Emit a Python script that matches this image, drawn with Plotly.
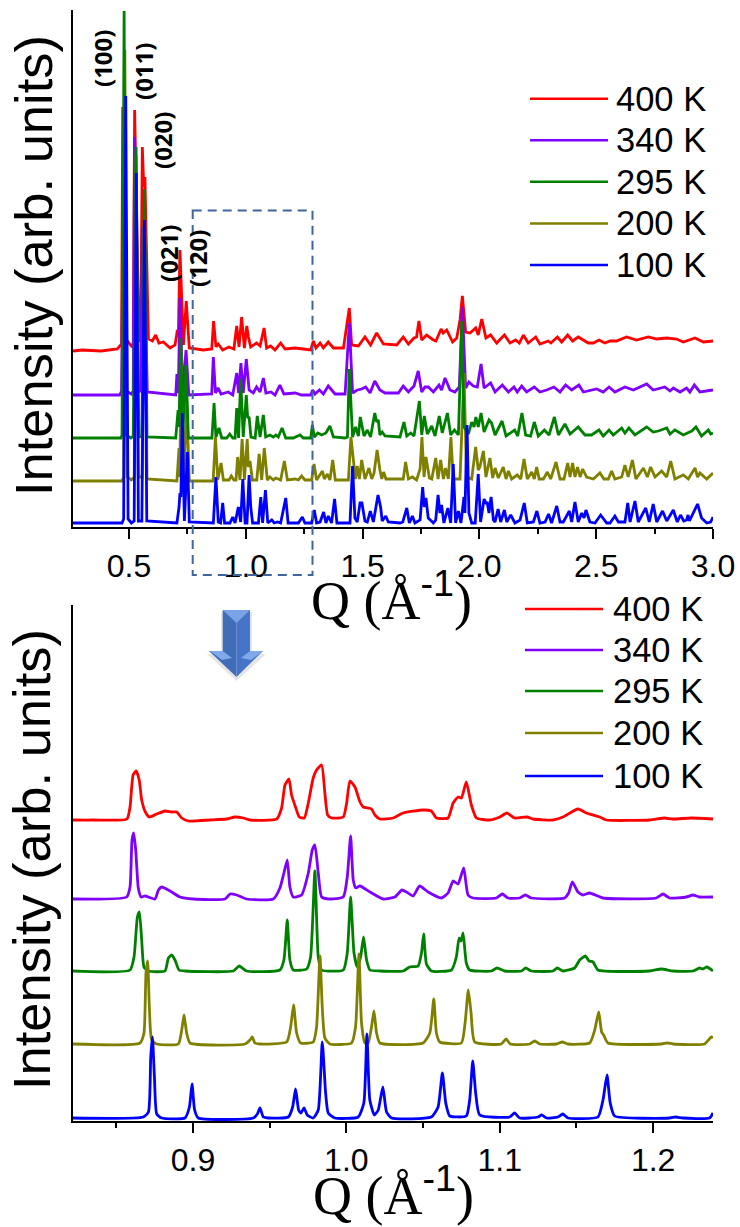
import plotly.graph_objects as go

# ---- data: (Q, intensity in arbitrary units) ----
top_400 = [(.26,176),(.30,177),(.38,176),(.45,178),(.468,183),(.473,420),(.481,190),(.51,181),(.518,183),(.524,417),(.543,185),(.550,190),(.557,380),(.563,340),(.568,350),(.583,188),(.600,186),(.614,192),(.628,184),(.647,185),(.676,179),(.697,182),(.707,197),(.711,190),(.718,277),(.733,182),(.745,226),(.758,179),(.818,177),(.854,178),(.862,206),(.872,180),(.882,183),(.901,177),(.928,180),(.949,178),(.961,201),(.971,180),(.982,210),(.994,179),(1.004,201),(1.011,190),(1.021,180),(1.046,184),(1.061,181),(1.078,199),(1.089,179),(1.106,181),(1.125,177),(1.149,184),(1.168,178),(1.211,179),(1.246,178),(1.278,177),(1.289,186),(1.300,179),(1.318,184),(1.332,179),(1.353,185),(1.375,179),(1.418,179),(1.435,207),(1.443,219),(1.453,182),(1.482,181),(1.510,190),(1.534,182),(1.560,194),(1.589,183),(1.646,182),(1.674,190),(1.696,183),(1.720,189),(1.731,190),(1.741,206),(1.753,187),(1.774,192),(1.803,187),(1.814,186),(1.836,198),(1.845,194),(1.860,197),(1.885,185),(1.903,189),(1.917,207),(1.927,231),(1.941,195),(1.960,194),(1.984,199),(1.995,192),(2.010,208),(2.028,189),(2.048,192),(2.074,184),(2.107,192),(2.131,184),(2.155,187),(2.171,184),(2.188,192),(2.209,184),(2.241,190),(2.259,183),(2.295,186),(2.306,184),(2.334,190),(2.352,185),(2.378,192),(2.399,186),(2.423,190),(2.466,184),(2.488,184),(2.512,187),(2.537,184),(2.559,186),(2.587,186),(2.630,190),(2.673,187),(2.723,190),(2.759,188),(2.802,189),(2.844,188),(2.873,185),(2.923,189),(2.959,185),(3.0,186)]

top_340 = [(.26,132),(.46,132),(.468,136),(.478,400),(.488,136),(.51,133),(.518,136),(.524,390),(.538,136),(.55,136),(.557,300),(.561,270),(.566,280),(.578,135),(.70,132),(.705,153),(.711,134),(.718,229),(.730,134),(.744,177),(.756,132),(.854,133),(.861,170),(.870,134),(.881,139),(.894,133),(.925,135),(.944,132),(.961,154),(.969,134),(.979,164),(.989,134),(1.002,168),(1.014,137),(1.032,134),(1.046,140),(1.061,135),(1.075,149),(1.086,134),(1.108,135),(1.125,132),(1.146,142),(1.163,133),(1.211,134),(1.239,132),(1.278,132),(1.286,137),(1.296,133),(1.315,137),(1.332,133),(1.353,141),(1.382,133),(1.425,133),(1.436,170),(1.443,204),(1.457,134),(1.477,137),(1.496,138),(1.513,140),(1.532,134),(1.552,146),(1.574,137),(1.596,134),(1.653,134),(1.674,141),(1.696,135),(1.720,141),(1.738,156),(1.753,135),(1.767,140),(1.781,140),(1.803,135),(1.827,142),(1.838,137),(1.853,149),(1.874,137),(1.895,135),(1.914,140),(1.927,220),(1.941,139),(1.955,145),(1.974,141),(1.991,140),(2.007,163),(2.020,139),(2.048,144),(2.067,135),(2.098,142),(2.124,135),(2.148,140),(2.162,135),(2.181,141),(2.202,135),(2.235,140),(2.259,135),(2.288,137),(2.319,140),(2.345,135),(2.369,142),(2.395,137),(2.426,142),(2.445,135),(2.502,138),(2.530,135),(2.555,140),(2.580,135),(2.623,140),(2.659,137),(2.716,143),(2.744,137),(2.794,140),(2.816,136),(2.830,139),(2.859,135),(2.887,139),(2.901,135),(2.920,142),(2.944,135),(2.980,136),(3.0,137)]

top_295 = [(.26,89),(.465,89),(.470,92),(.479,516),(.487,92),(.508,89),(.518,91),(.530,380),(.542,90),(.555,91),(.566,338),(.577,90),(.700,89),(.710,117),(.714,100),(.721,189),(.730,90),(.744,162),(.754,89),(.855,89),(.864,124),(.872,90),(.885,99),(.897,89),(.918,89),(.931,93),(.944,89),(.954,89),(.961,119),(.969,89),(.978,148),(.989,90),(1.002,132),(1.008,109),(1.014,110),(1.022,90),(1.040,89),(1.049,111),(1.061,90),(1.075,112),(1.085,90),(1.103,92),(1.118,90),(1.129,92),(1.139,90),(1.155,99),(1.171,89),(1.203,89),(1.232,92),(1.246,89),(1.278,89),(1.285,102),(1.293,90),(1.308,94),(1.325,92),(1.343,94),(1.360,101),(1.375,90),(1.425,89),(1.435,90),(1.443,158),(1.457,90),(1.470,100),(1.482,91),(1.490,110),(1.500,100),(1.506,91),(1.520,97),(1.534,90),(1.552,114),(1.560,105),(1.567,107),(1.574,92),(1.584,95),(1.596,91),(1.660,90),(1.677,105),(1.689,91),(1.706,94),(1.720,91),(1.743,126),(1.753,92),(1.764,111),(1.777,93),(1.796,101),(1.810,91),(1.828,111),(1.841,94),(1.863,114),(1.877,92),(1.893,97),(1.910,92),(1.925,206),(1.934,100),(1.953,93),(1.967,105),(1.977,100),(1.985,110),(1.995,100),(2.007,114),(2.020,95),(2.041,107),(2.052,104),(2.067,92),(2.097,106),(2.114,91),(2.151,97),(2.164,91),(2.182,114),(2.198,92),(2.219,91),(2.235,105),(2.252,91),(2.278,97),(2.298,92),(2.321,110),(2.338,92),(2.366,103),(2.388,93),(2.423,100),(2.452,92),(2.480,92),(2.512,97),(2.530,91),(2.555,97),(2.573,92),(2.609,99),(2.623,94),(2.640,99),(2.666,92),(2.716,100),(2.744,95),(2.766,96),(2.802,99),(2.816,93),(2.837,97),(2.873,92),(2.909,96),(2.927,100),(2.951,91),(2.980,97),(2.990,93),(3.0,94)]

top_200 = [(.26,46),(.47,46),(.477,50),(.482,477),(.492,50),(.51,47),(.522,50),(.530,372),(.540,50),(.556,50),(.566,330),(.577,48),(.705,46),(.714,79),(.718,50),(.722,180),(.735,48),(.747,124),(.758,46),(.860,46),(.870,90),(.880,47),(.894,64),(.904,47),(.928,47),(.938,51),(.949,47),(.958,47),(.965,70),(.975,47),(.984,88),(.994,47),(1.006,88),(1.011,60),(1.018,66),(1.028,47),(1.047,47),(1.057,73),(1.068,47),(1.079,79),(1.092,47),(1.103,50),(1.118,47),(1.128,49),(1.139,48),(1.149,47),(1.165,66),(1.178,47),(1.211,48),(1.225,47),(1.239,51),(1.253,47),(1.282,47),(1.292,63),(1.303,47),(1.328,56),(1.336,48),(1.349,53),(1.360,47),(1.372,67),(1.383,47),(1.439,47),(1.450,90),(1.460,70),(1.469,48),(1.477,61),(1.486,48),(1.496,67),(1.510,48),(1.527,59),(1.539,48),(1.549,54),(1.562,77),(1.574,57),(1.582,48),(1.590,55),(1.600,48),(1.674,48),(1.684,65),(1.696,48),(1.713,50),(1.731,47),(1.746,58),(1.754,90),(1.763,50),(1.771,70),(1.786,49),(1.796,48),(1.813,69),(1.823,48),(1.834,67),(1.846,48),(1.855,59),(1.867,48),(1.878,90),(1.888,48),(1.917,48),(1.934,154),(1.945,50),(1.967,48),(1.984,80),(1.995,57),(2.002,60),(2.017,76),(2.028,50),(2.045,69),(2.057,49),(2.067,59),(2.081,49),(2.102,60),(2.114,48),(2.124,56),(2.138,48),(2.162,52),(2.177,48),(2.191,68),(2.205,48),(2.224,55),(2.235,48),(2.245,60),(2.256,48),(2.274,48),(2.291,55),(2.305,48),(2.328,65),(2.345,48),(2.362,48),(2.378,64),(2.388,50),(2.399,64),(2.409,50),(2.420,60),(2.431,50),(2.442,58),(2.459,50),(2.488,48),(2.516,54),(2.533,48),(2.552,48),(2.566,56),(2.580,48),(2.609,50),(2.623,62),(2.637,50),(2.655,67),(2.670,48),(2.702,59),(2.719,50),(2.733,60),(2.752,50),(2.780,56),(2.802,50),(2.819,66),(2.837,48),(2.873,52),(2.894,48),(2.923,59),(2.934,50),(2.944,54),(2.973,48),(2.998,54),(3.0,54)]

top_100 = [(.26,4),(.47,4),(.477,8),(.486,431),(.496,8),(.51,4),(.522,6),(.531,354),(.54,6),(.555,6),(.566,307),(.576,6),(.705,4),(.714,20),(.718,34),(.722,30),(.728,114),(.737,6),(.750,75),(.758,5),(.861,4),(.872,50),(.882,5),(.892,4),(.901,24),(.909,4),(.932,4),(.944,10),(.954,4),(.968,20),(.978,5),(.987,48),(.997,4),(1.005,4),(1.014,52),(1.021,20),(1.029,4),(1.054,4),(1.064,30),(1.072,4),(1.084,37),(1.094,4),(1.111,7),(1.122,4),(1.135,5),(1.149,4),(1.171,29),(1.181,4),(1.225,4),(1.242,10),(1.253,4),(1.282,4),(1.293,17),(1.303,4),(1.318,5),(1.333,15),(1.343,4),(1.353,11),(1.367,4),(1.380,28),(1.390,4),(1.446,4),(1.457,61),(1.467,9),(1.477,5),(1.489,24),(1.497,24),(1.510,6),(1.520,5),(1.533,16),(1.546,5),(1.566,32),(1.577,20),(1.584,6),(1.599,11),(1.610,5),(1.660,4),(1.672,5),(1.689,19),(1.700,4),(1.713,11),(1.724,4),(1.746,7),(1.757,40),(1.764,20),(1.771,29),(1.781,9),(1.803,4),(1.813,7),(1.823,32),(1.831,14),(1.838,22),(1.848,4),(1.865,19),(1.877,4),(1.888,63),(1.898,4),(1.910,16),(1.921,4),(1.934,30),(1.938,14),(1.947,102),(1.955,14),(1.967,4),(1.982,4),(1.995,53),(2.005,5),(2.020,28),(2.028,24),(2.034,24),(2.041,14),(2.050,30),(2.060,7),(2.067,5),(2.080,18),(2.091,5),(2.107,17),(2.117,5),(2.134,12),(2.152,4),(2.174,7),(2.192,24),(2.205,4),(2.231,5),(2.246,16),(2.259,4),(2.281,5),(2.296,13),(2.309,4),(2.331,21),(2.345,5),(2.359,5),(2.385,16),(2.395,5),(2.409,25),(2.423,5),(2.438,14),(2.448,9),(2.456,17),(2.473,5),(2.495,4),(2.519,12),(2.545,4),(2.559,4),(2.580,11),(2.595,5),(2.623,5),(2.635,24),(2.645,5),(2.666,26),(2.680,5),(2.712,19),(2.727,5),(2.744,23),(2.759,5),(2.784,16),(2.802,6),(2.830,17),(2.847,5),(2.861,12),(2.875,6),(2.887,7),(2.893,12),(2.899,6),(2.934,23),(2.951,9),(2.973,4),(2.990,5),(3.0,10)]

low_400 = [(.8215,301),(.835,301),(.857,302),(.859,314),(.861,346),(.863,350),(.865,341),(.8666,321),(.869,309),(.8716,304),(.8764,307),(.8818,310),(.8861,309),(.8894,309),(.8927,303),(.897,300),(.9111,301),(.922,302),(.9274,304),(.9328,303),(.9372,301),(.9546,302),(.9578,313),(.96,336),(.9626,342),(.9643,326),(.9671,313),(.9693,304),(.9726,303),(.9752,318),(.9784,343),(.9806,351),(.9839,356),(.986,328),(.9878,306),(.9904,303),(.998,304),(1.0002,318),(1.0023,340),(1.0056,334),(1.0089,319),(1.011,314),(1.0164,312),(1.0186,306),(1.0219,302),(1.0305,303),(1.037,308),(1.05,311),(1.0554,310),(1.0587,303),(1.0663,303),(1.0696,318),(1.0728,324),(1.075,323),(1.0782,339),(1.0815,316),(1.0848,303),(1.0934,301),(1.10,304),(1.1047,308),(1.1097,303),(1.1178,304),(1.1217,302),(1.1347,301),(1.1412,304),(1.151,312),(1.1564,308),(1.1651,304),(1.1694,301),(1.1977,301),(1.2075,303),(1.2129,302),(1.2248,303),(1.239,302)]

low_340 = [(.8215,222),(.8568,224),(.859,234),(.8603,281),(.8614,288),(.8627,271),(.8644,233),(.8662,224),(.8688,225),(.8753,222),(.8775,231),(.8796,234),(.8851,230),(.8916,224),(.9003,222),(.9209,222),(.9242,227),(.9285,226),(.935,222),(.9524,222),(.9567,233),(.9593,248),(.9615,261),(.9632,234),(.9654,224),(.9708,226),(.9752,248),(.9778,271),(.9795,276),(.9817,248),(.9839,224),(.9893,222),(.998,224),(1.0006,244),(1.0028,285),(1.0045,241),(1.0062,233),(1.0089,235),(1.0154,229),(1.0241,222),(1.0316,224),(1.0363,231),(1.0392,229),(1.0435,225),(1.0478,235),(1.0533,229),(1.062,223),(1.0663,228),(1.0696,240),(1.0728,237),(1.0765,253),(1.0793,226),(1.0826,223),(1.0978,223),(1.1017,227),(1.1054,223),(1.113,223),(1.1167,226),(1.1206,223),(1.1423,223),(1.1449,228),(1.1473,239),(1.151,229),(1.1542,226),(1.1586,228),(1.1673,223),(1.202,223),(1.2064,227),(1.2107,223),(1.2216,224),(1.2259,226),(1.2302,224),(1.239,224)]

low_295 = [(.8215,150),(.859,151),(.8616,164),(.8638,204),(.8651,209),(.8666,181),(.8681,154),(.871,150),(.8818,150),(.884,163),(.8861,166),(.8883,161),(.8909,151),(.8948,150),(.9263,150),(.9302,155),(.935,150),(.9567,151),(.9593,161),(.9615,201),(.9632,161),(.9654,151),(.9741,152),(.9767,164),(.9795,250),(.9817,164),(.9839,151),(.998,151),(1.0006,168),(1.0028,224),(1.005,168),(1.0071,154),(1.0093,164),(1.0112,184),(1.0132,161),(1.0154,151),(1.0219,150),(1.037,150),(1.0413,154),(1.0468,155),(1.049,168),(1.0504,187),(1.0522,157),(1.0554,150),(1.0685,151),(1.0717,164),(1.0735,183),(1.0748,180),(1.0761,188),(1.0782,158),(1.0804,151),(1.0945,150),(1.0982,153),(1.1032,150),(1.1141,150),(1.1169,153),(1.1206,150),(1.1347,150),(1.1375,153),(1.1412,150),(1.1488,153),(1.1521,161),(1.1558,165),(1.1582,160),(1.1608,159),(1.164,151),(1.1977,150),(1.2053,152),(1.2129,150),(1.2259,150),(1.2302,153),(1.2324,152),(1.235,154),(1.239,150)]

low_200 = [(.8215,77),(.8655,78),(.8681,88),(.8694,148),(.8705,160),(.8716,114),(.8731,81),(.8764,77),(.8905,77),(.8927,91),(.8942,106),(.8959,88),(.8981,78),(.9339,77),(.9372,81),(.9387,84),(.9404,78),(.9437,77),(.9611,79),(.9637,94),(.9656,116),(.9676,88),(.9702,78),(.9784,79),(.9806,94),(.9828,165),(.9843,114),(.986,83),(.9893,77),(1.0034,78),(1.006,94),(1.0082,167),(1.0099,98),(1.0121,78),(1.0142,78),(1.0164,94),(1.018,110),(1.0197,88),(1.0219,78),(1.05,78),(1.0544,88),(1.057,122),(1.0587,88),(1.0609,79),(1.075,78),(1.0774,98),(1.0795,131),(1.0813,108),(1.0837,79),(1.101,77),(1.1041,82),(1.1069,77),(1.1195,77),(1.1228,80),(1.126,77),(1.1369,77),(1.1408,79),(1.1445,77),(1.1586,78),(1.1619,91),(1.1645,109),(1.1664,89),(1.1677,86),(1.1705,78),(1.2053,77),(1.2092,78),(1.2129,77),(1.2335,77),(1.2379,84),(1.239,83)]

low_100 = [(.8215,3),(.8677,4),(.871,9),(.8725,64),(.8736,84),(.8749,44),(.8764,7),(.8796,3),(.8948,3),(.8977,14),(.8994,37),(.9011,11),(.9035,3),(.9394,3),(.942,7),(.9437,13),(.9459,4),(.9491,3),(.9622,4),(.965,14),(.9669,32),(.9689,11),(.9704,8),(.9724,13),(.9745,6),(.9784,3),(.9817,11),(.9843,79),(.9865,28),(.9882,8),(.9925,3),(1.0077,4),(1.0114,18),(1.0134,87),(1.0153,21),(1.0182,6),(1.0208,11),(1.0238,34),(1.0262,9),(1.0295,3),(1.0554,4),(1.0598,14),(1.0626,48),(1.0648,18),(1.0674,5),(1.0782,5),(1.0804,21),(1.0824,60),(1.0843,28),(1.0869,6),(1.1065,4),(1.1097,8),(1.113,3),(1.125,4),(1.1273,6),(1.1304,3),(1.138,4),(1.141,7),(1.1445,3),(1.164,4),(1.1673,21),(1.1699,46),(1.172,18),(1.1749,5),(1.2107,3),(1.2146,4),(1.2194,3),(1.2368,3),(1.239,8)]

labels = ["400 K", "340 K", "295 K", "200 K", "100 K"]
colors = {"400 K": "#FF0000", "340 K": "#8000FF", "295 K": "#008000", "200 K": "#808000", "100 K": "#0000FF"}
top_series = {"400 K": top_400, "340 K": top_340, "200 K": top_200, "295 K": top_295, "100 K": top_100}
low_series = {"400 K": low_400, "340 K": low_340, "295 K": low_295, "200 K": low_200, "100 K": low_100}
top_ticks = [0.5, 1.0, 1.5, 2.0, 2.5, 3.0]
top_minor = [0.75, 1.25, 1.75, 2.25, 2.75]
low_ticks = [0.9, 1.0, 1.1, 1.2]
low_minor = [0.85, 0.95, 1.05, 1.15]
miller = [("(100)", 102, 59), ("(011)", 143, 72), ("(020)", 162, 141), ("(021)", 169, 254), ("(120)", 197, 259)]

W, H = 740, 1227
def px(x): return x / W
def py(y): return 1 - y / H

fig = go.Figure()
for name, pts in top_series.items():
    q, v = zip(*pts)
    fig.add_trace(go.Scatter(x=q, y=v, mode="lines", name=name, showlegend=False, hoverinfo="skip",
                             line=dict(color=colors[name], width=2.8), xaxis="x", yaxis="y"))
for name, pts in low_series.items():
    q, v = zip(*pts)
    fig.add_trace(go.Scatter(x=q, y=v, mode="lines", name=name, showlegend=False, hoverinfo="skip",
                             line=dict(color=colors[name], width=2.8, shape="spline", smoothing=0.5),
                             xaxis="x2", yaxis="y2"))

def xax(rng, ticks, minor, anchor):
    return dict(domain=[px(72.5), px(713)], range=rng, anchor=anchor, tickvals=ticks,
                ticktext=[f"{t:.1f}" for t in ticks], ticks="outside", ticklen=10, tickwidth=1.6,
                tickcolor="black", showline=True, linecolor="black", linewidth=2, showgrid=False, zeroline=False,
                automargin=False,
                tickfont=dict(family="Liberation Sans", size=32, color="black"),
                minor=dict(tickvals=minor, ticks="outside", ticklen=5, tickwidth=1.6, tickcolor="black", showgrid=False))

def yax(rng, y0, y1, anchor):
    return dict(domain=[py(y0), py(y1)], range=rng, anchor=anchor, showticklabels=False, ticks="",
                automargin=False,
                showline=True, linecolor="black", linewidth=2, showgrid=False, zeroline=False)

shapes, ann = [], []

def legend(x0, x1, xt, ys):
    for lab, y in zip(labels, ys):
        shapes.append(dict(type="line", xref="paper", yref="paper", x0=px(x0), x1=px(x1), y0=py(y), y1=py(y),
                           line=dict(color=colors[lab], width=2.4)))
        ann.append(dict(text=lab, xref="paper", yref="paper", x=px(xt), y=py(y), xanchor="left", yanchor="middle",
                        showarrow=False, font=dict(family="Liberation Sans", size=34.5, color="black")))

legend(530, 608, 614, [98.7, 140.3, 181.7, 223.5, 265])
legend(525, 603, 611, [609, 650, 691, 733, 776])

for txt, x, y in miller:
    ann.append(dict(text=f"<b>{txt}</b>", xref="paper", yref="paper", x=px(x), y=py(y), textangle=-90,
                    xanchor="center", yanchor="middle", showarrow=False,
                    font=dict(family="Open Sans", size=24, color="black")))

for x, y in [(33, 266), (31, 860)]:
    ann.append(dict(text="Intensity (arb. units)", xref="paper", yref="paper", x=px(x), y=py(y), textangle=-90,
                    xanchor="center", yanchor="middle", showarrow=False,
                    font=dict(family="Liberation Sans", size=52.5, color="black")))
for x, y in [(391, 596), (393, 1191)]:
    ann.append(dict(text='Q (Å<sup><span style="font-family:Liberation Sans">-1</span></sup>)',
                    xref="paper", yref="paper", x=px(x), y=py(y),
                    xanchor="center", yanchor="middle", showarrow=False,
                    font=dict(family="Liberation Serif", size=54, color="black")))

# dashed zoom box
shapes.append(dict(type="rect", xref="paper", yref="paper", x0=px(192.7), x1=px(312.5), y0=py(210.5), y1=py(575),
                   line=dict(color="#3F659E", width=2, dash="9px,6px"), fillcolor="rgba(0,0,0,0)"))

def poly(points, fill, opacity=1):
    path = "M " + " L ".join(f"{px(a):.5f},{py(b):.5f}" for a, b in points) + " Z"
    shapes.append(dict(type="path", xref="paper", yref="paper", path=path, fillcolor=fill, opacity=opacity,
                       line=dict(width=0)))

# block arrow
poly([(221, 612), (252, 612), (252, 654), (266, 654), (236.5, 681), (207, 654), (221, 654)], "#888888", 0.22)
poly([(222.7, 610), (236.5, 610), (236.5, 677), (209, 651), (222.7, 651)], "#3F6DB8")
poly([(236.5, 610), (250, 610), (250, 651), (263, 651), (236.5, 677)], "#4674C8")
poly([(222.7, 610), (250, 610), (236.5, 623)], "#7AA3E6")
poly([(210, 651), (222.7, 651), (232, 658), (222, 660)], "#80A9EA")
poly([(263, 651), (250, 651), (241, 658), (251, 660)], "#80A9EA")

fig.update_layout(
    width=W, height=H, margin=dict(l=0, r=0, t=0, b=0, autoexpand=False), autosize=False,
    paper_bgcolor="white", plot_bgcolor="white", showlegend=False,
    xaxis=xax([0.258, 3.0], top_ticks, top_minor, "y"),
    yaxis=yax([0, 517], 527, 10, "x"),
    xaxis2=xax([0.8215, 1.239], low_ticks, low_minor, "y2"),
    yaxis2=yax([0, 516], 1121, 605, "x2"),
    shapes=shapes, annotations=ann,
)
fig.write_html("out.html", config=dict(displayModeBar=False),
               post_script="document.body.style.margin='0';document.documentElement.style.overflow='hidden';")
